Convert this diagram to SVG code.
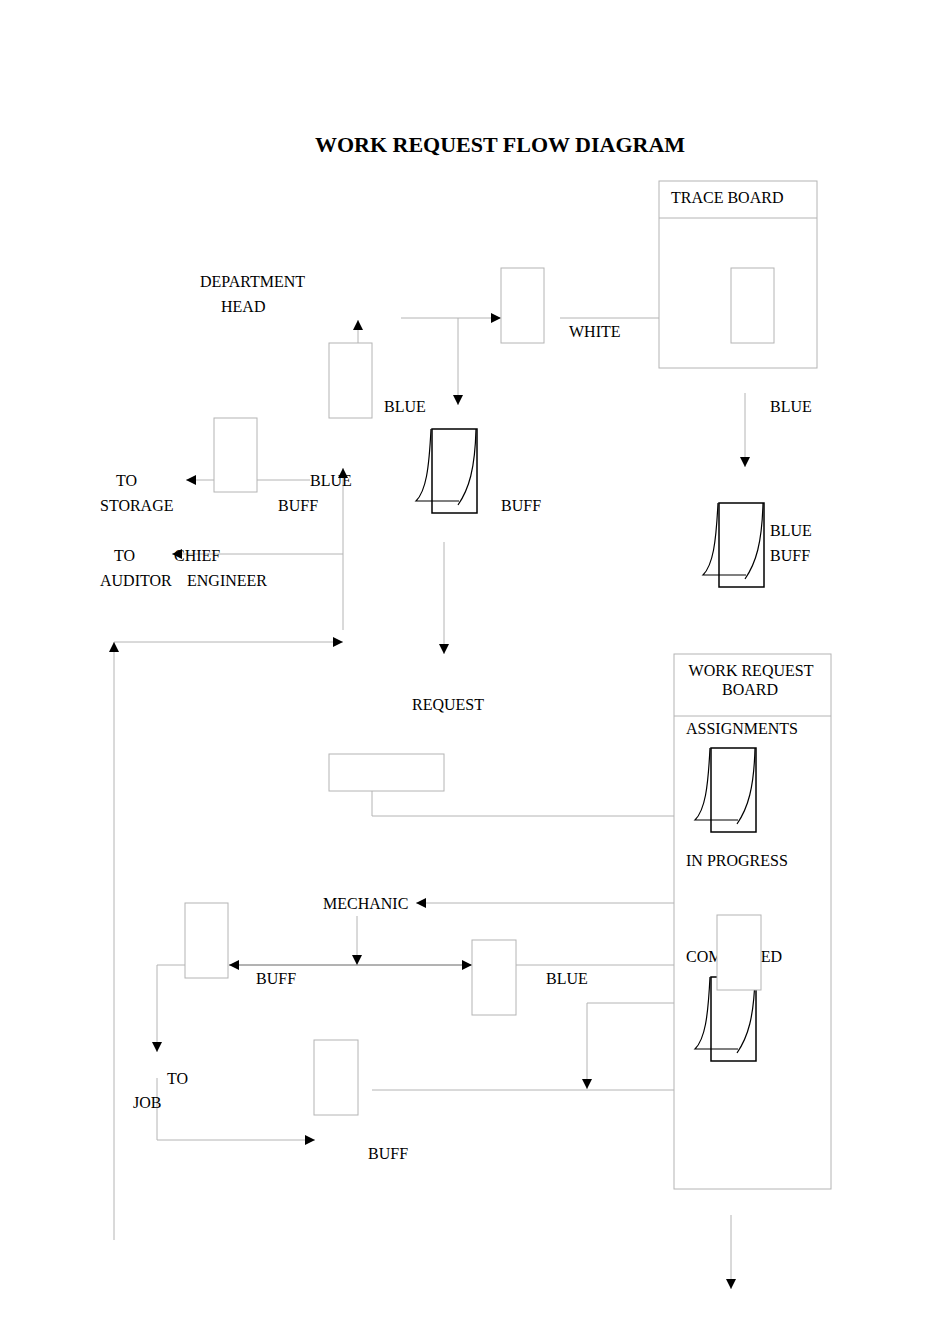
<svg xmlns="http://www.w3.org/2000/svg" width="950" height="1344" viewBox="0 0 950 1344">
<style>
text{font-family:"Liberation Serif",serif;font-size:16px;fill:#000}
.b{fill:#fff;stroke:#b4b4b4;stroke-width:1}
.l{fill:none;stroke:#b4b4b4;stroke-width:1}
.a{marker-end:url(#ah)}
.c rect{fill:none;stroke:#000;stroke-width:1.5}
.c path{fill:none;stroke:#000;stroke-width:1.2}
</style>
<defs>
<marker id="ah" viewBox="0 0 10 10" refX="10" refY="5" markerWidth="10" markerHeight="10" markerUnits="userSpaceOnUse" orient="auto"><path d="M0,0L10,5L0,10z" fill="#000"/></marker>
<g id="clip" class="c"><rect x="0" y="0" width="45" height="84"/><path d="M-1,0C-3,40,-6,62,-16,72L27,72M44,0C43,40,37,60,26,76"/></g>
</defs>
<rect width="950" height="1344" fill="#fff"/>
<text x="500" y="152" text-anchor="middle" style="font-size:22px;font-weight:bold">WORK REQUEST FLOW DIAGRAM</text>
<g id="connectors">
<path class="l a" d="M401,318H501"/>
<path class="l a" d="M458,318V405"/>
<path class="l a" d="M358,343V320"/>
<path class="l a" d="M560,318H717"/>
<path class="l a" d="M745,393V467"/>
<path class="l" d="M257,480H310"/>
<path class="l a" d="M214,480H186"/>
<path class="l a" d="M343,630V468"/>
<path class="l a" d="M343,554H172"/>
<path class="l a" d="M114,642H343"/>
<path class="l a" d="M114,1240V642"/>
<path class="l a" d="M444,542V654"/>
<path class="l a" d="M372,791V816H689"/>
<path class="l" d="M717,868V878"/>
<path class="l a" d="M689,903H416"/>
<path class="l a" d="M357,916V965"/>
<path d="M229,965H472" stroke="#666" fill="none" marker-end="url(#ah)" marker-start="url(#ahs)"/>
<marker id="ahs" viewBox="0 0 10 10" refX="0" refY="5" markerWidth="10" markerHeight="10" markerUnits="userSpaceOnUse" orient="auto"><path d="M10,0L0,5L10,10z" fill="#000"/></marker>
<path class="l a" d="M516,965H703"/>
<path class="l a" d="M185,965H157V1052"/>
<path class="l a" d="M157,1078V1140H315"/>
<path class="l a" d="M372,1090H703"/>
<path class="l a" d="M731,990V1003H587V1089"/>
<path class="l a" d="M731,1215V1289"/>
</g>
<g id="trace-board"><rect class="b" x="659" y="181" width="158" height="187"/><path class="l" d="M659,218H817"/><text x="671" y="203">TRACE BOARD</text><rect class="b" x="731" y="268" width="43" height="75"/></g>
<g id="wr-board"><rect class="b" x="674" y="654" width="157" height="535"/><path class="l" d="M674,716H831"/><text x="751" y="676" text-anchor="middle">WORK REQUEST</text><text x="750" y="695" text-anchor="middle">BOARD</text><text x="686" y="734">ASSIGNMENTS</text><text x="686" y="866">IN PROGRESS</text><text x="686" y="962">COMPLETED</text></g>
<g id="box-white"><rect class="b" x="501" y="268" width="43" height="75"/></g>
<g id="box-dept"><rect class="b" x="329" y="343" width="43" height="75"/></g>
<g id="box-storage"><rect class="b" x="214" y="418" width="43" height="74"/></g>
<g id="box-request"><rect class="b" x="329" y="754" width="115" height="37"/></g>
<g id="box-mech-left"><rect class="b" x="185" y="903" width="43" height="75"/></g>
<g id="box-mech-right"><rect class="b" x="472" y="940" width="44" height="75"/></g>
<g id="box-job"><rect class="b" x="314" y="1040" width="44" height="75"/></g>
<g id="clips"><use href="#clip" x="432" y="429"/><use href="#clip" x="719" y="503"/><use href="#clip" x="711" y="748"/><use href="#clip" x="711" y="977"/></g>
<g id="box-completed"><rect class="b" x="717" y="915" width="44" height="75"/></g>
<g id="labels">
<text x="200" y="287">DEPARTMENT</text><text x="221" y="312">HEAD</text>
<text x="569" y="337">WHITE</text>
<text x="384" y="412">BLUE</text><text x="770" y="412">BLUE</text>
<text x="116" y="486">TO</text><text x="100" y="511">STORAGE</text>
<text x="310" y="486">BLUE</text><text x="278" y="511">BUFF</text><text x="501" y="511">BUFF</text>
<text x="770" y="536">BLUE</text><text x="770" y="561">BUFF</text>
<text x="114" y="561">TO</text><text x="174" y="561">CHIEF</text>
<text x="100" y="586">AUDITOR</text><text x="187" y="586">ENGINEER</text>
<text x="412" y="710">REQUEST</text>
<text x="323" y="909">MECHANIC</text>
<text x="256" y="984">BUFF</text><text x="546" y="984">BLUE</text>
<text x="167" y="1084">TO</text><text x="133" y="1108">JOB</text>
<text x="368" y="1159">BUFF</text>
</g>
</svg>
